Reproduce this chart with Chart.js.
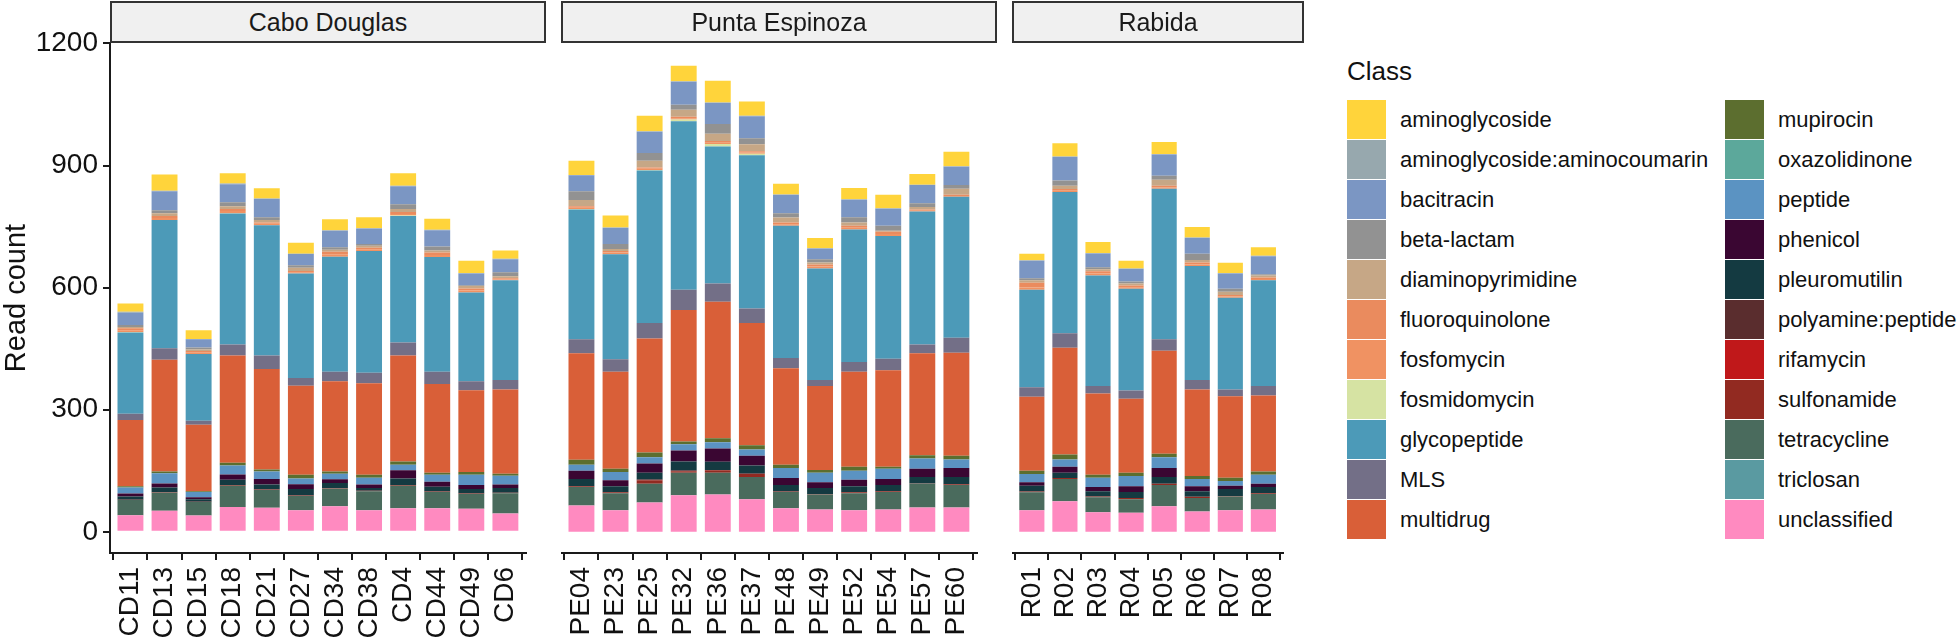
<!DOCTYPE html>
<html><head><meta charset="utf-8">
<script src="https://cdn.jsdelivr.net/npm/chart.js@4.4.1/dist/chart.umd.min.js"></script>
<style>
body{margin:0;width:1958px;height:640px;background:#fff;overflow:hidden;position:relative;font-family:"Liberation Sans",Arial,sans-serif}
.panel{position:absolute;top:0;height:640px}
.strip{position:absolute;top:1px;height:42px;box-sizing:border-box;border:2px solid #333;background:#f0f0f0;text-align:center;font-size:25px;line-height:38px;color:#1a1a1a}
.lgtitle{position:absolute;left:1347px;top:56px;font-size:26px;color:#111}
.key{position:absolute;width:39px;height:39px}
.lab{position:absolute;font-size:22px;line-height:40px;height:40px;color:#111;white-space:nowrap}
</style></head><body>
<div class="panel" id="p1" style="left:0;width:546px"><canvas id="c1"></canvas></div>
<div class="panel" id="p2" style="left:561px;width:436px"><canvas id="c2"></canvas></div>
<div class="panel" id="p3" style="left:1012px;width:292px"><canvas id="c3"></canvas></div>
<div class="strip" style="left:110px;width:436px">Cabo Douglas</div>
<div class="strip" style="left:561px;width:436px">Punta Espinoza</div>
<div class="strip" style="left:1012px;width:292px">Rabida</div>
<div class="lgtitle">Class</div>
<div id="legend"></div>
<script>
// ---- categories ----
const sites = ['Cabo Douglas', 'Punta Espinoza', 'Rabida'];
const cdSamples = ['CD11','CD13','CD15','CD18','CD21','CD27','CD34','CD38','CD4','CD44','CD49','CD6'];
const peSamples = ['PE04','PE23','PE25','PE32','PE36','PE37','PE48','PE49','PE52','PE54','PE57','PE60'];
const rSamples  = ['R01','R02','R03','R04','R05','R06','R07','R08'];
const yTicks = [0, 300, 600, 900, 1200];

// legend order (top of stack first)
const classNames = ['aminoglycoside','aminoglycoside:aminocoumarin','bacitracin','beta-lactam','diaminopyrimidine',
  'fluoroquinolone','fosfomycin','fosmidomycin','glycopeptide','MLS','multidrug','mupirocin','oxazolidinone',
  'peptide','phenicol','pleuromutilin','polyamine:peptide','rifamycin','sulfonamide','tetracycline','triclosan','unclassified'];
const classColors = ['#FFD43B','#97A8AE','#7B96C3','#929292','#C6A786','#EA8B5E','#F09262','#D6E3A3','#4C9AB8',
  '#736F87','#D95F38','#5C6E2F','#5CA89B','#5B93C2','#3A0632','#143A41','#5A2D2E','#C0181A','#922A21','#4A6B5D','#5A9AA1','#FF8AC0'];

// ---- series values: samples in order CD..., PE..., R... ----
const aminoglycoside      = [20,40,21,25,25,27,27,27,31,27,30,20, 35,29,38,38,53,35,26,25,28,33,26,36, 16,33,27,19,30,26,25,21];
const aminoglycosideAminocoumarin = [3,1,1,2,1,0,1,1,1,1,1,1, 1,1,1,1,1,1,1,1,1,1,1,1, 1,1,1,1,1,1,1,1];
const bacitracin          = [30,47,20,44,45,28,41,38,44,40,29,32, 39,40,52,57,52,54,45,26,43,42,45,45, 43,58,34,31,52,39,38,44];
const betaLactam          = [5,7,5,10,7,6,6,4,12,10,2,10, 22,12,19,12,24,15,11,8,13,12,9,9, 5,13,5,5,10,15,7,3];
const diaminopyrimidine   = [3,7,4,7,6,8,5,5,7,5,6,5, 15,5,17,17,18,17,12,5,8,3,6,15, 6,8,5,5,15,6,8,5];
const fluoroquinolone     = [5,5,3,5,3,3,6,4,5,6,5,3, 4,4,3,4,4,3,4,5,5,5,3,3, 12,4,5,4,4,5,4,4];
const fosfomycin          = [4,5,4,5,4,3,6,4,4,5,5,2, 3,4,3,3,3,3,4,5,4,5,2,2, 5,3,5,4,3,4,3,3];
const fosmidomycin        = [1,0,0,1,0,0,0,0,1,0,0,0, 1,0,1,4,6,4,0,0,0,0,0,0, 0,0,0,0,0,0,0,0];
const glycopeptide        = [200,315,164,322,320,257,283,299,311,282,218,245, 319,258,375,414,337,376,325,274,326,302,327,346, 240,347,272,250,370,280,225,260];
const MLS                 = [15,28,10,27,33,19,23,26,32,30,22,23, 34,31,38,50,45,36,25,15,24,28,21,37, 23,36,18,20,28,23,17,23];
const multidrug           = [163,275,163,263,247,219,222,225,260,218,201,207, 262,238,280,323,335,300,237,206,233,237,251,253, 182,262,200,182,253,213,200,187];
const mupirocin           = [3,4,2,7,5,9,5,7,8,5,7,5, 12,8,12,7,10,11,8,7,10,5,8,9, 8,12,7,8,9,7,8,8];
const oxazolidinone       = [0,0,0,0,0,0,0,0,0,0,0,0, 0,0,0,0,0,0,0,0,0,0,0,0, 0,0,0,0,0,0,0,0];
const peptide             = [15,25,13,22,18,14,14,17,14,17,25,22, 15,20,15,15,15,15,25,23,22,25,25,21, 20,18,23,25,26,18,12,22];
const phenicol            = [7,10,5,13,14,12,9,8,20,12,10,8, 20,15,23,27,33,24,17,14,16,15,20,22, 9,15,10,14,22,12,8,8];
const pleuromutilin       = [8,12,6,13,12,16,13,7,16,12,11,12, 18,15,17,23,20,20,16,15,15,15,16,18, 14,13,13,15,17,14,17,15];
const polyaminePeptide    = [0,0,0,0,0,0,0,0,0,0,0,0, 0,0,0,0,0,0,0,0,0,0,0,0, 0,0,0,0,0,0,0,0];
const rifamycin           = [0,0,0,0,0,0,0,0,0,0,0,0, 0,0,1,1,1,1,0,0,0,0,0,0, 0,0,0,0,0,0,0,0];
const sulfonamide         = [1,1,1,2,1,1,1,1,2,1,1,1, 2,2,9,4,6,7,1,1,2,2,1,2, 2,2,2,3,3,3,1,2];
const tetracycline        = [37,44,33,52,44,35,43,47,55,40,36,50, 45,42,46,55,53,55,40,37,42,43,58,55, 44,55,37,33,52,33,34,38];
const triclosan           = [0,0,0,0,0,0,0,0,0,0,0,0, 0,0,0,0,0,0,0,0,0,0,0,0, 0,0,0,0,0,0,0,0];
const unclassified        = [41,52,40,61,59,53,63,53,58,58,57,45, 65,53,72,90,92,80,58,55,53,55,60,60, 53,75,48,47,63,50,53,55];

const classValues = [aminoglycoside, aminoglycosideAminocoumarin, bacitracin, betaLactam, diaminopyrimidine,
  fluoroquinolone, fosfomycin, fosmidomycin, glycopeptide, MLS, multidrug, mupirocin, oxazolidinone,
  peptide, phenicol, pleuromutilin, polyaminePeptide, rifamycin, sulfonamide, tetracycline, triclosan, unclassified];

const FONT = '"Liberation Sans", Arial, sans-serif';
const AX = '#1a1a1a';

function makePanel(canvasId, labels, start, showY) {
  const n = labels.length;
  const datasets = [];
  for (let k = classNames.length - 1; k >= 0; k--) {
    datasets.push({
      label: classNames[k],
      data: labels.map((_, i) => ({x: i, y: classValues[k][start + i]})),
      backgroundColor: classColors[k],
      borderWidth: 0,
      barPercentage: 0.76,
      categoryPercentage: 1.0
    });
  }
  return new Chart(document.getElementById(canvasId), {
    type: 'bar',
    data: {datasets},
    options: {
      responsive: true, maintainAspectRatio: false, animation: false, events: [],
      layout: {padding: {top: 43, left: 0, right: 0, bottom: 0}},
      plugins: {legend: {display: false}, tooltip: {enabled: false}},
      scales: {
        x: {
          type: 'linear', stacked: true, min: -0.6, max: n - 0.4, offset: false,
          afterBuildTicks: s => { s.ticks = labels.map((_, i) => ({value: i})); },
          afterFit: s => { s.height = 87; },
          grid: {display: true, drawOnChartArea: false, drawTicks: true, tickLength: 7, color: AX, lineWidth: 2},
          border: {display: true, color: AX, width: 2},
          ticks: {autoSkip: false, minRotation: 90, maxRotation: 90, padding: 7, color: '#111',
                  font: {family: FONT, size: 28}, callback: v => labels[v]}
        },
        y: {
          display: showY, stacked: true, min: -52, max: 1201,
          afterBuildTicks: s => { s.ticks = yTicks.map(v => ({value: v})); },
          afterFit: s => { if (showY) s.width = 110; },
          grid: {display: true, drawOnChartArea: false, drawTicks: true, tickLength: 7, color: AX, lineWidth: 2},
          border: {display: true, color: AX, width: 2},
          ticks: {padding: 5, color: '#111', font: {family: FONT, size: 28}, callback: v => String(v)},
          title: {display: true, text: 'Read count', color: '#111', font: {family: FONT, size: 29}, padding: {top: 0, bottom: 2}}
        }
      }
    }
  });
}

makePanel('c1', cdSamples, 0, true);
makePanel('c2', peSamples, cdSamples.length, false);
makePanel('c3', rSamples, cdSamples.length + peSamples.length, false);

// legend (real text)
const lg = document.getElementById('legend');
classNames.forEach((name, k) => {
  const col = k < 11 ? 0 : 1;
  const row = k % 11;
  const top = 100 + row * 40;
  const kx = col === 0 ? 1347 : 1725;
  const tx = col === 0 ? 1400 : 1778;
  const key = document.createElement('div');
  key.className = 'key';
  key.style.left = kx + 'px'; key.style.top = top + 'px';
  key.style.background = classColors[k];
  lg.appendChild(key);
  const lab = document.createElement('div');
  lab.className = 'lab';
  lab.style.left = tx + 'px'; lab.style.top = top + 'px';
  lab.textContent = name;
  lg.appendChild(lab);
});
</script>
</body></html>
